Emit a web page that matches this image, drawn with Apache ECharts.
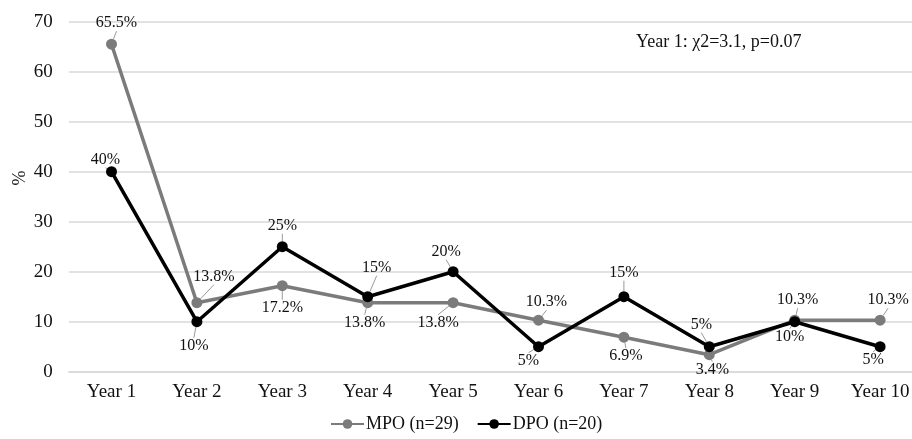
<!DOCTYPE html>
<html>
<head>
<meta charset="utf-8">
<script src="https://cdn.jsdelivr.net/npm/echarts@6/dist/echarts.min.js"></script>
<style>html,body{margin:0;padding:0;background:#fff;overflow:hidden}#c{width:923px;height:439px}</style>
</head>
<body>
<div id="c"></div>
<script>
const categories = ['Year 1','Year 2','Year 3','Year 4','Year 5','Year 6','Year 7','Year 8','Year 9','Year 10'];
const mpoValues = [65.5, 13.8, 17.2, 13.8, 13.8, 10.3, 6.9, 3.4, 10.3, 10.3];
const dpoValues = [40, 10, 25, 15, 20, 5, 15, 5, 10, 5];
const seriesNames = ['MPO (n=29)', 'DPO (n=20)'];
const yTicks = [0, 10, 20, 30, 40, 50, 60, 70];
const yAxisTitle = '%';
const annotationText = 'Year 1: \u03C72=3.1, p=0.07';

// label displacement (layout only)
const mpoLabelShift = [[5,-21],[17,-26],[0,22],[-3,20],[-15,20],[8,-18],[2,19],[3,15],[3,-20],[8,-20]];
const dpoLabelShift = [[-6,-12],[-3,24],[0,-21],[9,-29],[-7,-20],[-10,14],[0,-24],[-8,-22],[-5,15],[-7,13]];

const FONT = "'Liberation Serif','Times New Roman',serif";
const chart = echarts.init(document.getElementById('c'), null, {renderer: 'canvas'});

function mkSeries(name, values, color, shifts) {
  return {
    name: name,
    type: 'line',
    data: values,
    symbol: 'circle',
    symbolSize: 11,
    z: name === seriesNames[1] ? 3 : 2,
    lineStyle: {color: color, width: 3.5},
    itemStyle: {color: color},
    label: {
      show: true,
      position: 'inside',
      formatter: p => p.value + '%',
      fontFamily: FONT,
      fontSize: 16,
      color: '#111'
    },
    labelLine: {show: true, lineStyle: {color: '#9a9a9a', width: 1}},
    labelLayout: function (params) {
      const s = shifts[params.dataIndex];
      return {dx: s[0], dy: s[1]};
    },
    emphasis: {disabled: true},
    animation: false
  };
}

chart.setOption({
  backgroundColor: '#fff',
  animation: false,
  grid: {left: 68.8, top: 21.7, width: 854, bottom: 67.3, containLabel: false},
  legend: {
    data: seriesNames,
    left: 330,
    top: 415,
    padding: 0,
    itemWidth: 33,
    itemHeight: 12,
    itemGap: 18,
    textStyle: {fontFamily: FONT, fontSize: 18, color: '#111', padding: [0, 0, 0, -3]}
  },
  xAxis: {
    type: 'category',
    data: categories,
    boundaryGap: true,
    axisLine: {show: true, lineStyle: {color: '#d9d9d9', width: 1.5}},
    axisTick: {show: false},
    axisLabel: {fontFamily: FONT, fontSize: 19, color: '#111', margin: 11, interval: 0}
  },
  yAxis: {
    type: 'value',
    min: yTicks[0],
    max: yTicks[yTicks.length - 1],
    interval: 10,
    axisLine: {show: false},
    axisTick: {show: false},
    splitLine: {lineStyle: {color: '#d9d9d9', width: 1.5}},
    axisLabel: {fontFamily: FONT, fontSize: 19, color: '#111', margin: 16}
  },
  graphic: [{
    type: 'text',
    x: 20,
    y: 178,
    rotation: Math.PI / 2,
    style: {text: yAxisTitle, font: '18px ' + FONT, fill: '#111', align: 'center', verticalAlign: 'middle'}
  }, {
    type: 'text',
    left: 636,
    top: 33,
    style: {text: annotationText, font: '18px ' + FONT, fill: '#111'}
  }],
  series: [
    mkSeries(seriesNames[0], mpoValues, '#7b7b7b', mpoLabelShift),
    mkSeries(seriesNames[1], dpoValues, '#000000', dpoLabelShift)
  ]
});
</script>
</body>
</html>
